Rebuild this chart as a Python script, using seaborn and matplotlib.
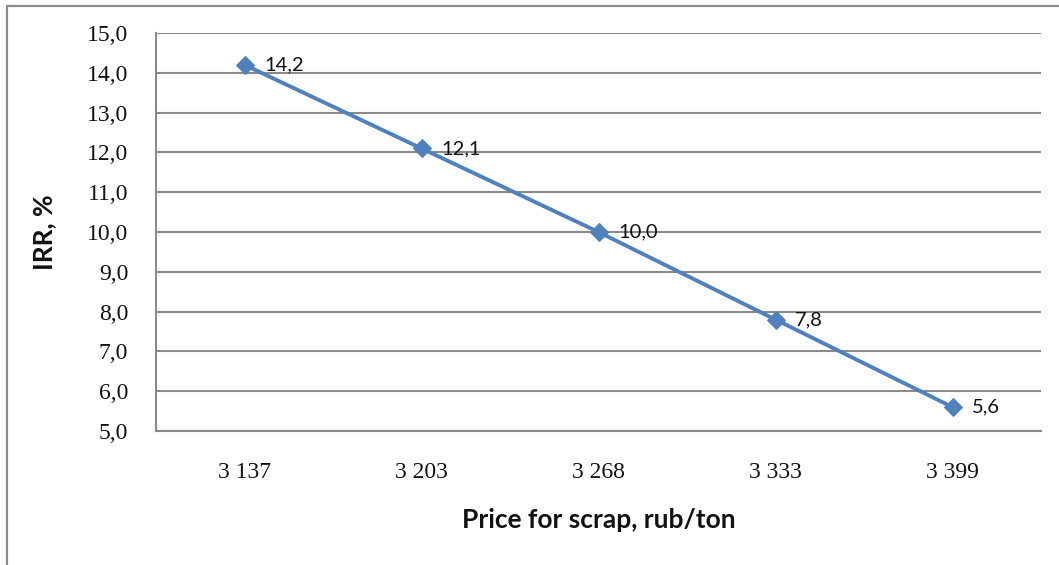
import matplotlib
matplotlib.use("Agg")
import matplotlib.pyplot as plt
from matplotlib.lines import Line2D
import seaborn as sns
import pandas as pd

# Scrap price scenarios (rub/ton) and resulting IRR (%)
prices = ["3 137", "3 203", "3 268", "3 333", "3 399"]
irr = [14.2, 12.1, 10.0, 7.8, 5.6]
y_ticks = [5, 6, 7, 8, 9, 10, 11, 12, 13, 14, 15]

df = pd.DataFrame({"price": prices, "irr": irr})

sns.set_theme(style="white")
plt.rcParams["font.family"] = ["Liberation Serif", "DejaVu Serif"]

fig = plt.figure(figsize=(10.59, 5.65), dpi=100)
ax = fig.add_axes([156 / 1059, 1 - 431 / 565, (1041 - 156) / 1059, (431 - 33) / 565])

line_color = "#4F81BD"
grid_color = "#8A8A8A"

sns.lineplot(data=df, x="price", y="irr", ax=ax, sort=False,
             color=line_color, linewidth=2.8, marker="D", markersize=9.5,
             markeredgecolor=line_color, zorder=3)

ax.set_xlim(-0.5, len(prices) - 0.5)
ax.set_ylim(5, 15)
ax.set_yticks(y_ticks)
ax.set_yticklabels([f"{v:.1f}".replace(".", ",") for v in y_ticks])
ax.set_xticks(range(len(prices)))
ax.set_xticklabels(prices)

for lbl in ax.get_xticklabels() + ax.get_yticklabels():
    lbl.set_fontsize(17)
    lbl.set_color("#111111")
ax.tick_params(axis="both", length=0)
ax.tick_params(axis="y", pad=20)
ax.tick_params(axis="x", pad=22)

ax.yaxis.grid(True, color=grid_color, linewidth=1.5)
ax.set_axisbelow(True)
for side in ["top", "right"]:
    ax.spines[side].set_visible(False)
for side in ["left", "bottom"]:
    ax.spines[side].set_color(grid_color)
    ax.spines[side].set_linewidth(1.5)

# Value labels to the right of each point
for i, v in enumerate(irr):
    ax.annotate(f"{v:.1f}".replace(".", ","), (i, v), xytext=(14, 0),
                textcoords="offset points", ha="left", va="center",
                fontsize=14.5, family=["Lato", "DejaVu Sans"], color="#111111")

ax.set_xlabel("Price for scrap, rub/ton", fontsize=19, fontweight="bold",
              family=["Lato", "DejaVu Sans"], color="#111111", labelpad=18)
ax.set_ylabel("IRR, %", fontsize=19, fontweight="bold",
              family=["Lato", "DejaVu Sans"], color="#111111", labelpad=22)

# Chart-area frame (top and left edges)
fig.add_artist(Line2D([7 / 1059, 7 / 1059], [0, 1 - 6 / 565],
                      transform=fig.transFigure, color="#8C8C8C", linewidth=1.6))
fig.add_artist(Line2D([7 / 1059, 1], [1 - 6 / 565, 1 - 6 / 565],
                      transform=fig.transFigure, color="#8C8C8C", linewidth=1.6))

fig.savefig("out.png", dpi=100, facecolor="white")
